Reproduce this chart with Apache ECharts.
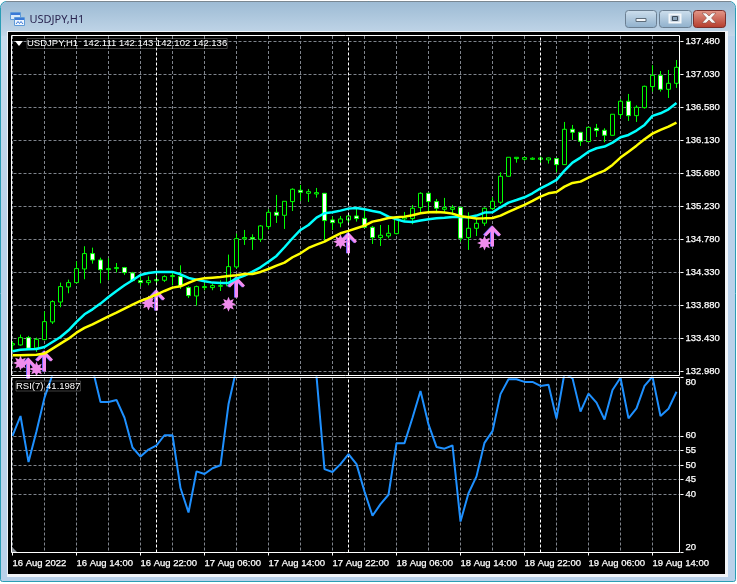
<!DOCTYPE html>
<html>
<head>
<meta charset="utf-8">
<style>html,body{margin:0;padding:0;background:#fff}#c{width:737px;height:584px}</style>
<script src="https://cdn.jsdelivr.net/npm/echarts@6/dist/echarts.min.js"></script>
</head>
<body>
<div id="c"></div>
<script>
const tickLabels = ['16 Aug 2022','16 Aug 14:00','16 Aug 22:00','17 Aug 06:00','17 Aug 14:00','17 Aug 22:00','18 Aug 06:00','18 Aug 14:00','18 Aug 22:00','19 Aug 06:00','19 Aug 14:00'];
const priceTicks = [132.98,133.43,133.88,134.33,134.78,135.23,135.68,136.13,136.58,137.03,137.48];
const rsiTicks = [20,40,45,50,55,60,80];
const midnightBars = [18,42,66];

const opens = [133.339,133.339,133.439,133.298,133.412,133.653,133.925,134.13,134.189,134.375,134.585,134.498,134.366,134.38,134.394,134.321,134.216,134.189,134.216,134.221,134.271,134.271,134.121,134.007,134.121,134.121,134.139,134.144,134.403,134.785,134.803,134.78,134.953,135.148,135.107,135.294,135.448,135.407,135.398,135.407,135.044,135.003,135.044,135.098,135.066,134.944,134.803,134.825,134.857,135.057,135.062,135.212,135.407,135.294,135.189,135.189,135.216,134.803,134.93,135.0,135.198,135.285,135.639,135.88,135.871,135.871,135.871,135.862,135.88,135.798,136.28,136.239,136.112,136.294,136.266,136.198,136.48,136.662,136.466,136.575,136.862,137.016,136.825,136.907];
const highs = [133.385,133.48,133.462,133.439,133.798,133.948,134.189,134.23,134.48,134.685,134.666,134.53,134.521,134.457,134.403,134.335,134.275,134.275,134.289,134.289,134.321,134.425,134.139,134.148,134.185,134.175,134.221,134.571,134.857,134.907,134.848,134.975,135.189,135.385,135.298,135.475,135.521,135.466,135.48,135.407,135.089,135.098,135.125,135.216,135.189,134.962,134.975,134.975,135.089,135.153,135.248,135.421,135.416,135.33,135.344,135.248,135.216,135.148,135.06,135.216,135.353,135.694,135.898,135.898,135.894,135.898,135.907,135.894,135.885,136.38,136.339,136.239,136.312,136.353,136.294,136.485,136.689,136.762,136.607,136.875,137.153,137.075,137.089,137.225];
const lows = [133.257,133.33,133.285,133.244,133.403,133.625,133.853,134.044,134.185,134.235,134.448,134.18,134.221,134.33,134.294,134.207,134.139,134.153,134.157,134.198,134.153,134.103,133.98,133.875,134.085,134.085,134.075,134.139,134.38,134.703,134.635,134.744,134.916,135.003,134.921,135.166,135.303,135.289,135.348,134.757,134.907,134.944,134.975,135.021,134.935,134.716,134.689,134.794,134.848,135.021,134.985,135.135,135.135,135.135,135.144,135.112,134.748,134.635,134.825,134.962,135.18,135.262,135.635,135.825,135.853,135.862,135.807,135.812,135.694,135.794,136.135,136.053,136.108,136.175,136.103,136.194,136.435,136.394,136.38,136.562,136.794,136.794,136.707,136.844];
const closes = [133.357,133.439,133.294,133.416,133.657,133.93,134.135,134.189,134.38,134.585,134.498,134.366,134.38,134.394,134.325,134.216,134.189,134.216,134.23,134.271,134.285,134.148,134.012,134.135,134.135,134.148,134.148,134.407,134.789,134.803,134.785,134.962,135.148,135.107,135.298,135.462,135.421,135.43,135.416,135.035,135.007,135.057,135.098,135.062,134.944,134.803,134.835,134.862,135.062,135.075,135.203,135.407,135.294,135.203,135.212,135.212,134.794,134.93,134.998,135.203,135.298,135.639,135.898,135.898,135.894,135.885,135.889,135.889,135.798,136.28,136.239,136.116,136.307,136.262,136.198,136.485,136.662,136.466,136.58,136.866,137.016,136.825,136.907,137.125];

const cyanMA = [133.253,133.275,133.28,133.285,133.312,133.38,133.448,133.539,133.653,133.757,133.825,133.903,133.994,134.075,134.153,134.221,134.294,134.321,134.335,134.335,134.335,134.303,134.253,134.23,134.207,134.189,134.185,134.185,134.244,134.285,134.339,134.398,134.475,134.553,134.671,134.794,134.907,134.975,135.075,135.135,135.148,135.171,135.198,135.207,135.189,135.166,135.144,135.089,135.053,135.021,135.016,135.035,135.053,135.066,135.075,135.085,135.085,135.08,135.103,135.144,135.148,135.216,135.28,135.316,135.353,135.407,135.475,135.53,135.589,135.716,135.825,135.894,135.975,136.021,136.044,136.098,136.171,136.203,136.262,136.339,136.462,136.498,136.553,136.639];
const yellowMA = [133.198,133.198,133.203,133.207,133.221,133.289,133.357,133.425,133.507,133.571,133.621,133.675,133.73,133.78,133.835,133.889,133.939,133.98,134.025,134.075,134.121,134.139,134.185,134.23,134.248,134.257,134.266,134.28,134.289,134.307,134.307,134.335,134.375,134.421,134.462,134.535,134.589,134.662,134.707,134.748,134.807,134.862,134.894,134.93,134.966,135.021,135.044,135.071,135.08,135.089,135.107,135.135,135.148,135.153,135.144,135.13,135.094,135.08,135.062,135.066,135.071,135.103,135.153,135.203,135.248,135.303,135.362,135.407,135.425,135.498,135.548,135.566,135.62,135.671,135.716,135.794,135.894,135.975,136.057,136.144,136.221,136.271,136.316,136.371];
const rsi = [60,66.8,51,61.6,73.1,81,86,87,90,92,83,71.6,71.6,72.3,66.2,56,52.9,55.3,56.7,60.2,60.2,42.1,33.7,47.8,46.9,48.9,49.9,70.8,83,85,84,85,87,89,90,88,89,86,80.5,48.6,47.6,50.3,53.7,50.3,40.9,32.6,36.6,39.8,57.5,57.5,66.2,75.4,63.9,56.2,55.6,56.7,30.6,40.3,46.1,57.6,61.6,74.3,79.4,79.4,78.5,78.5,77.1,77.5,65.9,81.5,79.7,68.3,74.5,71.4,65.6,75.7,79.9,66,69.4,77.1,80.3,66.8,69.3,75.1];

const arrowBars = [2,4,18,28,42,60];
const arrowPrices = [133.025,133.12,133.952,134.129,134.733,134.825];
const starBars = [1,3,17,27,41,59];
const starPrices = [133.093,133.012,133.911,133.894,134.747,134.73];

const categories = opens.map((_, i) => i % 8 === 0 ? tickLabels[i / 8] : 'bar' + i);
const ohlc = opens.map((o, i) => [o, closes[i], lows[i], highs[i]]);

const GRID = '#7f848c';
const LABEL = '#ffffff';
const FONT = '"Liberation Sans", Arial, sans-serif';
const FS = 9.5;
const ARROW = 'path://M8.5 0 L17 9 L15 11 L10 6 L10 21 L7 21 L7 6 L2 11 L0 9 Z';
const STAR = 'path://M7 0 L8.45 3.5 L11.95 2.05 L10.5 5.55 L14 7 L10.5 8.45 L11.95 11.95 L8.45 10.5 L7 14 L5.55 10.5 L2.05 11.95 L3.5 8.45 L0 7 L3.5 5.55 L2.05 2.05 L5.55 3.5 Z';
const grad = (c1, c2) => ({type:'linear',x:0,y:0,x2:0,y2:1,colorStops:[{offset:0,color:c1},{offset:1,color:c2}]});

const midnightLine = {
  silent: true, symbol: 'none', animation: false,
  label: {show:false},
  lineStyle: {color:'#ffffff', type:[3,2], width:1},
  data: midnightBars.map(b => ({xAxis:b}))
};

function button(x, w, c1, c2, border) {
  return {type:'rect', z:101, shape:{x:x+0.5,y:10.5,width:w,height:17,r:3},
    style:{fill:grad(c1,c2), stroke:border, lineWidth:1}};
}

const backdrop = [
  {type:'rect', z:-5, shape:{x:0.5,y:1.5,width:735,height:580,r:[6,6,2,2]}, style:{fill:'#b9d1ea', stroke:'#2a9db5', lineWidth:1}},
  {type:'rect', z:-4, shape:{x:1,y:2,width:734,height:34,r:[6,6,0,0]}, style:{fill:grad('#9dbbd4','#c3d7e9')}},
  {type:'line', z:-4, shape:{x1:6,y1:1.5,x2:731,y2:1.5}, style:{stroke:'#7a8791', lineWidth:1}},
  {type:'rect', z:-4, shape:{x:1,y:36,width:7,height:190}, style:{fill:grad('#c8dcee','#b9d1ea')}},
  {type:'rect', z:-3, shape:{x:7,y:31,width:721,height:546}, style:{fill:'#f1f4f8'}},
  {type:'rect', z:-2, shape:{x:8,y:32,width:717,height:542}, style:{fill:'#000000'}}
];

const front = [
  {type:'rect', z:100, shape:{x:8,y:32,width:3,height:542}, style:{fill:'#000000'}},
  {type:'rect', z:100, shape:{x:11,y:36,width:0.5,height:340}, style:{fill:'#000000'}},
  {type:'rect', z:101, shape:{x:11.5,y:35.5,width:668,height:340}, style:{fill:'transparent',stroke:'#ffffff',lineWidth:1}},
  {type:'rect', z:101, shape:{x:11.5,y:377.5,width:668,height:175}, style:{fill:'transparent',stroke:'#ffffff',lineWidth:1}},
  {type:'polygon', z:101, shape:{points:[[12,547],[12,552],[17,552]]}, style:{fill:'#8a8f96'}},
  {type:'polygon', z:101, shape:{points:[[15,41],[23,41],[19,46]]}, style:{fill:'#ffffff'}},
  {type:'text', z:101, style:{x:27,y:43.5,text:'USDJPY,H1  142.111 142.143 142.102 142.136',fill:'#ffffff',font:'9.5px '+FONT,textBorderColor:'#ffffff',textBorderWidth:0.25,verticalAlign:'middle'}},
  {type:'text', z:101, style:{x:16,y:386,text:'RSI(7) 41.1987',fill:'#ffffff',font:'9.5px '+FONT,textBorderColor:'#ffffff',textBorderWidth:0.25,verticalAlign:'middle'}},
  {type:'text', z:101, style:{x:29.5,y:19.5,text:'USDJPY,H1',fill:'#2a2550',font:'11px "Noto Sans", sans-serif',verticalAlign:'middle'}},
  {type:'rect', z:101, shape:{x:10.5,y:12.5,width:10,height:7}, style:{fill:'#dbeafa',stroke:'#5f9ad8',lineWidth:1}},
  {type:'rect', z:101, shape:{x:11,y:13,width:9,height:2}, style:{fill:'#3b79d6'}},
  {type:'rect', z:102, shape:{x:14.5,y:17.5,width:10,height:8}, style:{fill:'#eef6ff',stroke:'#5f9ad8',lineWidth:1}},
  {type:'rect', z:102, shape:{x:15,y:18,width:9,height:2}, style:{fill:'#3b79d6'}},
  {type:'polyline', z:102, shape:{points:[[16,24],[18,21.5],[19.5,23.5],[21,21.5],[23,24]]}, style:{stroke:'#3b79d6',fill:'none',lineWidth:1}},
  button(625,31,'#cfe0ee','#8eafcb','#6b7f92'),
  button(659,32,'#cfe0ee','#8eafcb','#6b7f92'),
  button(693,32,'#e59a8c','#b33a2b','#7a2f2b'),
  {type:'rect', z:102, shape:{x:636,y:18.5,width:10,height:3}, style:{fill:'#f4f7fa',stroke:'#5d6c7a',lineWidth:1}},
  {type:'rect', z:102, shape:{x:669.5,y:14.5,width:11,height:8}, style:{fill:'#aabdd0',stroke:'#f4f7fa',lineWidth:2}},
  {type:'rect', z:102, shape:{x:672.5,y:16.5,width:5,height:4}, style:{fill:'#8aa4bb',stroke:'#3d4a58',lineWidth:1}},
  {type:'polygon', z:102, shape:{points:[[702,13],[706,13],[709,16],[712,13],[716,13],[711.5,18],[716,23],[712,23],[709,20],[706,23],[702,23],[706.5,18]]}, style:{fill:'#f8f8f8',stroke:'#7a3a33',lineWidth:0.5}}
];

const splitStyle = {show:true, lineStyle:{color:GRID, type:[3,2], width:1}};
const vSplit = {show:true, alignWithLabel:true, interval:(i)=>i%4===0, lineStyle:{color:GRID, type:[3,2], width:1}};
const labelWeight = {textBorderColor:LABEL, textBorderWidth:0.25};

const chart = echarts.init(document.getElementById('c'), null, {renderer:'canvas'});
chart.setOption({
  animation:false,
  backgroundColor:'#ffffff',
  grid:[
    {left:8.5, width:672, top:36, height:339.5},
    {left:8.5, width:672, top:377.5, height:175}
  ],
  xAxis:[
    {type:'category', gridIndex:0, data:categories, boundaryGap:true,
     axisLine:{show:false}, axisTick:{show:false}, axisLabel:{show:false}, splitLine:vSplit},
    {type:'category', gridIndex:1, data:categories, boundaryGap:true,
     axisLine:{show:false},
     axisTick:{show:true, alignWithLabel:true, length:3, interval:(i)=>i%8===0, lineStyle:{color:'#ffffff'}},
     axisLabel:{show:true, interval:(i)=>i%8===0, align:'left', margin:6, color:LABEL, fontFamily:FONT, fontSize:FS, hideOverlap:false, ...labelWeight},
     splitLine:vSplit}
  ],
  yAxis:[
    {type:'value', gridIndex:0, position:'right', min:132.9225, max:137.552,
     axisLine:{show:false},
     axisTick:{show:true, length:3, customValues:priceTicks, lineStyle:{color:'#ffffff'}},
     axisLabel:{customValues:priceTicks, margin:5, color:LABEL, fontFamily:FONT, fontSize:FS, formatter:(v)=>v.toFixed(3), ...labelWeight},
     splitLine:splitStyle},
    {type:'value', gridIndex:1, position:'right', min:20, max:80,
     axisLine:{show:false},
     axisTick:{show:true, length:3, customValues:rsiTicks, lineStyle:{color:'#ffffff'}},
     axisLabel:{customValues:rsiTicks, margin:5, color:LABEL, fontFamily:FONT, fontSize:FS,
       verticalAlignMinLabel:'bottom', verticalAlignMaxLabel:'top', formatter:(v)=>String(v), ...labelWeight},
     splitLine:splitStyle}
  ],
  series:[
    {type:'candlestick', name:'USDJPY,H1', xAxisIndex:0, yAxisIndex:0, data:ohlc, barWidth:5, z:3,
     itemStyle:{color:'#000000', color0:'#ffffff', borderColor:'#00ff00', borderColor0:'#00ff00', borderWidth:1}},
    {type:'scatter', name:'arrows', xAxisIndex:0, yAxisIndex:0, z:4, symbol:ARROW, symbolSize:[17,21],
     data:arrowBars.map((b,i)=>[b, arrowPrices[i]]),
     itemStyle:{color:'#f48cf0', opacity:1, shadowColor:'#6f66ff', shadowBlur:0, shadowOffsetX:-1, shadowOffsetY:0}},
    {type:'scatter', name:'stars', xAxisIndex:0, yAxisIndex:0, z:4, symbol:STAR, symbolSize:15,
     data:starBars.map((b,i)=>[b, starPrices[i]]),
     itemStyle:{color:'#f08cec', opacity:1}},
    {type:'line', name:'MA fast', xAxisIndex:0, yAxisIndex:0, data:cyanMA, z:5, showSymbol:false, symbol:'none',
     lineStyle:{color:'#00ffff', width:2.5}, markLine:midnightLine},
    {type:'line', name:'MA slow', xAxisIndex:0, yAxisIndex:0, data:yellowMA, z:6, showSymbol:false, symbol:'none',
     lineStyle:{color:'#ffff00', width:2.5}},
    {type:'line', name:'RSI(7)', xAxisIndex:1, yAxisIndex:1, data:rsi, z:5, showSymbol:false, symbol:'none',
     lineStyle:{color:'#1e90ff', width:2}, markLine:midnightLine}
  ],
  graphic:{elements:backdrop.concat(front)}
});
</script>
</body>
</html>
